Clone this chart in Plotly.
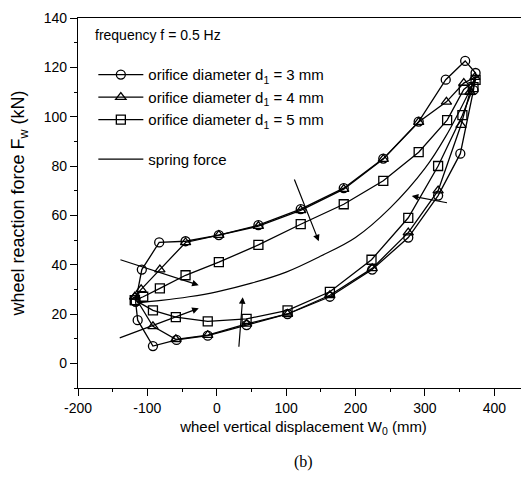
import plotly.graph_objects as go

# ---------------- data ----------------
# orifice diameter d1 = 3 mm (circles), loop traced from the leftmost point
d3_x = [-117, -108, -83, -45, 3, 60, 121, 183, 240, 291, 330, 358, 373, 370, 351, 319, 276, 224, 163, 102, 43, -13, -58, -92, -114, -117]
d3_y = [25, 38, 49, 49.5, 52, 56, 62.5, 71, 83, 98, 115, 122.6, 117.7, 110.8, 85, 68, 51, 38, 27, 20, 15.5, 11.2, 9.5, 7, 17.5, 25]

# orifice diameter d1 = 4 mm (triangles)
d4_x = [-118, -109, -82, -45, 3, 60, 121, 183, 240, 291, 331, 356, 372, 365, 352, 319, 276, 224, 163, 102, 43, -13, -59, -92, -118]
d4_y = [27, 30, 38, 49, 52, 55.6, 62, 70.6, 82.8, 97.8, 106, 113.6, 116, 110, 96.6, 70, 53, 38.5, 27.6, 20, 16, 11.4, 9.7, 15, 27]

# orifice diameter d1 = 5 mm (squares)
d5_x = [-118, -106, -82, -45, 3, 60, 121, 183, 240, 291, 332, 356, 373, 370, 354, 319, 276, 223, 163, 102, 43, -13, -59, -92, -118]
d5_y = [25.6, 27, 30.4, 35.7, 41, 48, 56.4, 64.5, 74, 85.6, 98.6, 111, 114.9, 112, 100.6, 80, 59, 42, 29, 21.5, 18, 17, 18.7, 21.5, 25.6]

# spring force
spring_x = [-115, -80, -40, 0, 50, 100, 150, 200, 250, 300, 330, 360, 375]
spring_y = [24.5, 25.5, 27, 29, 32.5, 37, 43.5, 51, 63, 79, 92, 108, 117]

# direction arrows: (tail x, tail y, head x, head y) in data units
arrows = [
    (-141, 42.2, -26, 31.7),
    (-142, 10.1, -26, 22.3),
    (31.7, 6.1, 37.4, 26.8),
    (111, 75.1, 147, 49.5),
    (334, 65, 281, 67.8),
]

series_names = [
    "orifice diameter d<sub>1</sub> = 3 mm",
    "orifice diameter d<sub>1</sub> = 4 mm",
    "orifice diameter d<sub>1</sub> = 5 mm",
]
x_ticks = [-200, -100, 0, 100, 200, 300, 400]
y_ticks = [0, 20, 40, 60, 80, 100, 120, 140]

# ---------------- figure ----------------
FONT = "Liberation Sans, Arial, sans-serif"
fig = go.Figure()

for xs, ys, name, sym in [
    (d3_x, d3_y, series_names[0], "circle-open"),
    (d4_x, d4_y, series_names[1], "triangle-up-open"),
    (d5_x, d5_y, series_names[2], "square-open"),
]:
    fig.add_trace(go.Scatter(
        x=xs, y=ys, mode="lines+markers", name=name,
        line=dict(color="black", width=1.3),
        marker=dict(symbol=sym, size=9, color="black", line=dict(width=1.3)),
        legendgroup="a",
    ))

fig.add_trace(go.Scatter(
    x=spring_x, y=spring_y, mode="lines", name="spring force",
    line=dict(color="black", width=1.2, shape="spline"),
    legendgroup="b",
))

for tx, ty, hx, hy in arrows:
    fig.add_annotation(
        x=hx, y=hy, ax=tx, ay=ty, xref="x", yref="y", axref="x", ayref="y",
        text="", showarrow=True, arrowhead=2, arrowsize=1.1, arrowwidth=1.2,
        arrowcolor="black",
    )

fig.add_annotation(
    x=0.034, y=0.954, xref="paper", yref="paper", xanchor="left", yanchor="middle",
    text="frequency f = 0.5 Hz", showarrow=False,
    font=dict(family=FONT, size=14, color="black"),
)
fig.add_annotation(
    x=0.5, y=-0.2, xref="paper", yref="paper", xanchor="center", yanchor="middle",
    text="(b)", showarrow=False,
    font=dict(family="Liberation Serif, Times New Roman, serif", size=16, color="black"),
)

axis_common = dict(
    showgrid=False, zeroline=False, showline=True, linecolor="black", linewidth=1.2,
    mirror=True, ticks="outside", ticklen=7, tickwidth=1, tickcolor="black",
    tickfont=dict(family=FONT, size=14, color="black"),
)

fig.update_xaxes(
    range=[-200, 450], tickvals=x_ticks, ticktext=[str(v) for v in x_ticks],
    minor=dict(ticks="outside", ticklen=3, dtick=50, tick0=0, tickcolor="black"),
    title=dict(text="wheel vertical displacement W<sub>0</sub> (mm)",
               font=dict(family=FONT, size=15, color="black"), standoff=6),
    **axis_common,
)
fig.update_yaxes(
    range=[-10, 140], tickvals=y_ticks, ticktext=[str(v) for v in y_ticks],
    minor=dict(ticks="outside", ticklen=3, dtick=10, tick0=0, tickcolor="black"),
    title=dict(text="wheel reaction force F<sub>w</sub> (kN)",
               font=dict(family=FONT, size=18, color="black"), standoff=18),
    **axis_common,
)

fig.update_layout(
    width=521, height=472,
    margin=dict(l=70, r=0, t=10, b=92),
    paper_bgcolor="white", plot_bgcolor="white",
    showlegend=True,
    legend=dict(
        x=0.034, y=0.891, xanchor="left", yanchor="top",
        bgcolor="rgba(0,0,0,0)", borderwidth=0,
        font=dict(family=FONT, size=15, color="black"),
        traceorder="grouped", tracegroupgap=17, itemwidth=45,
    ),
)

fig.write_html("out.html")
